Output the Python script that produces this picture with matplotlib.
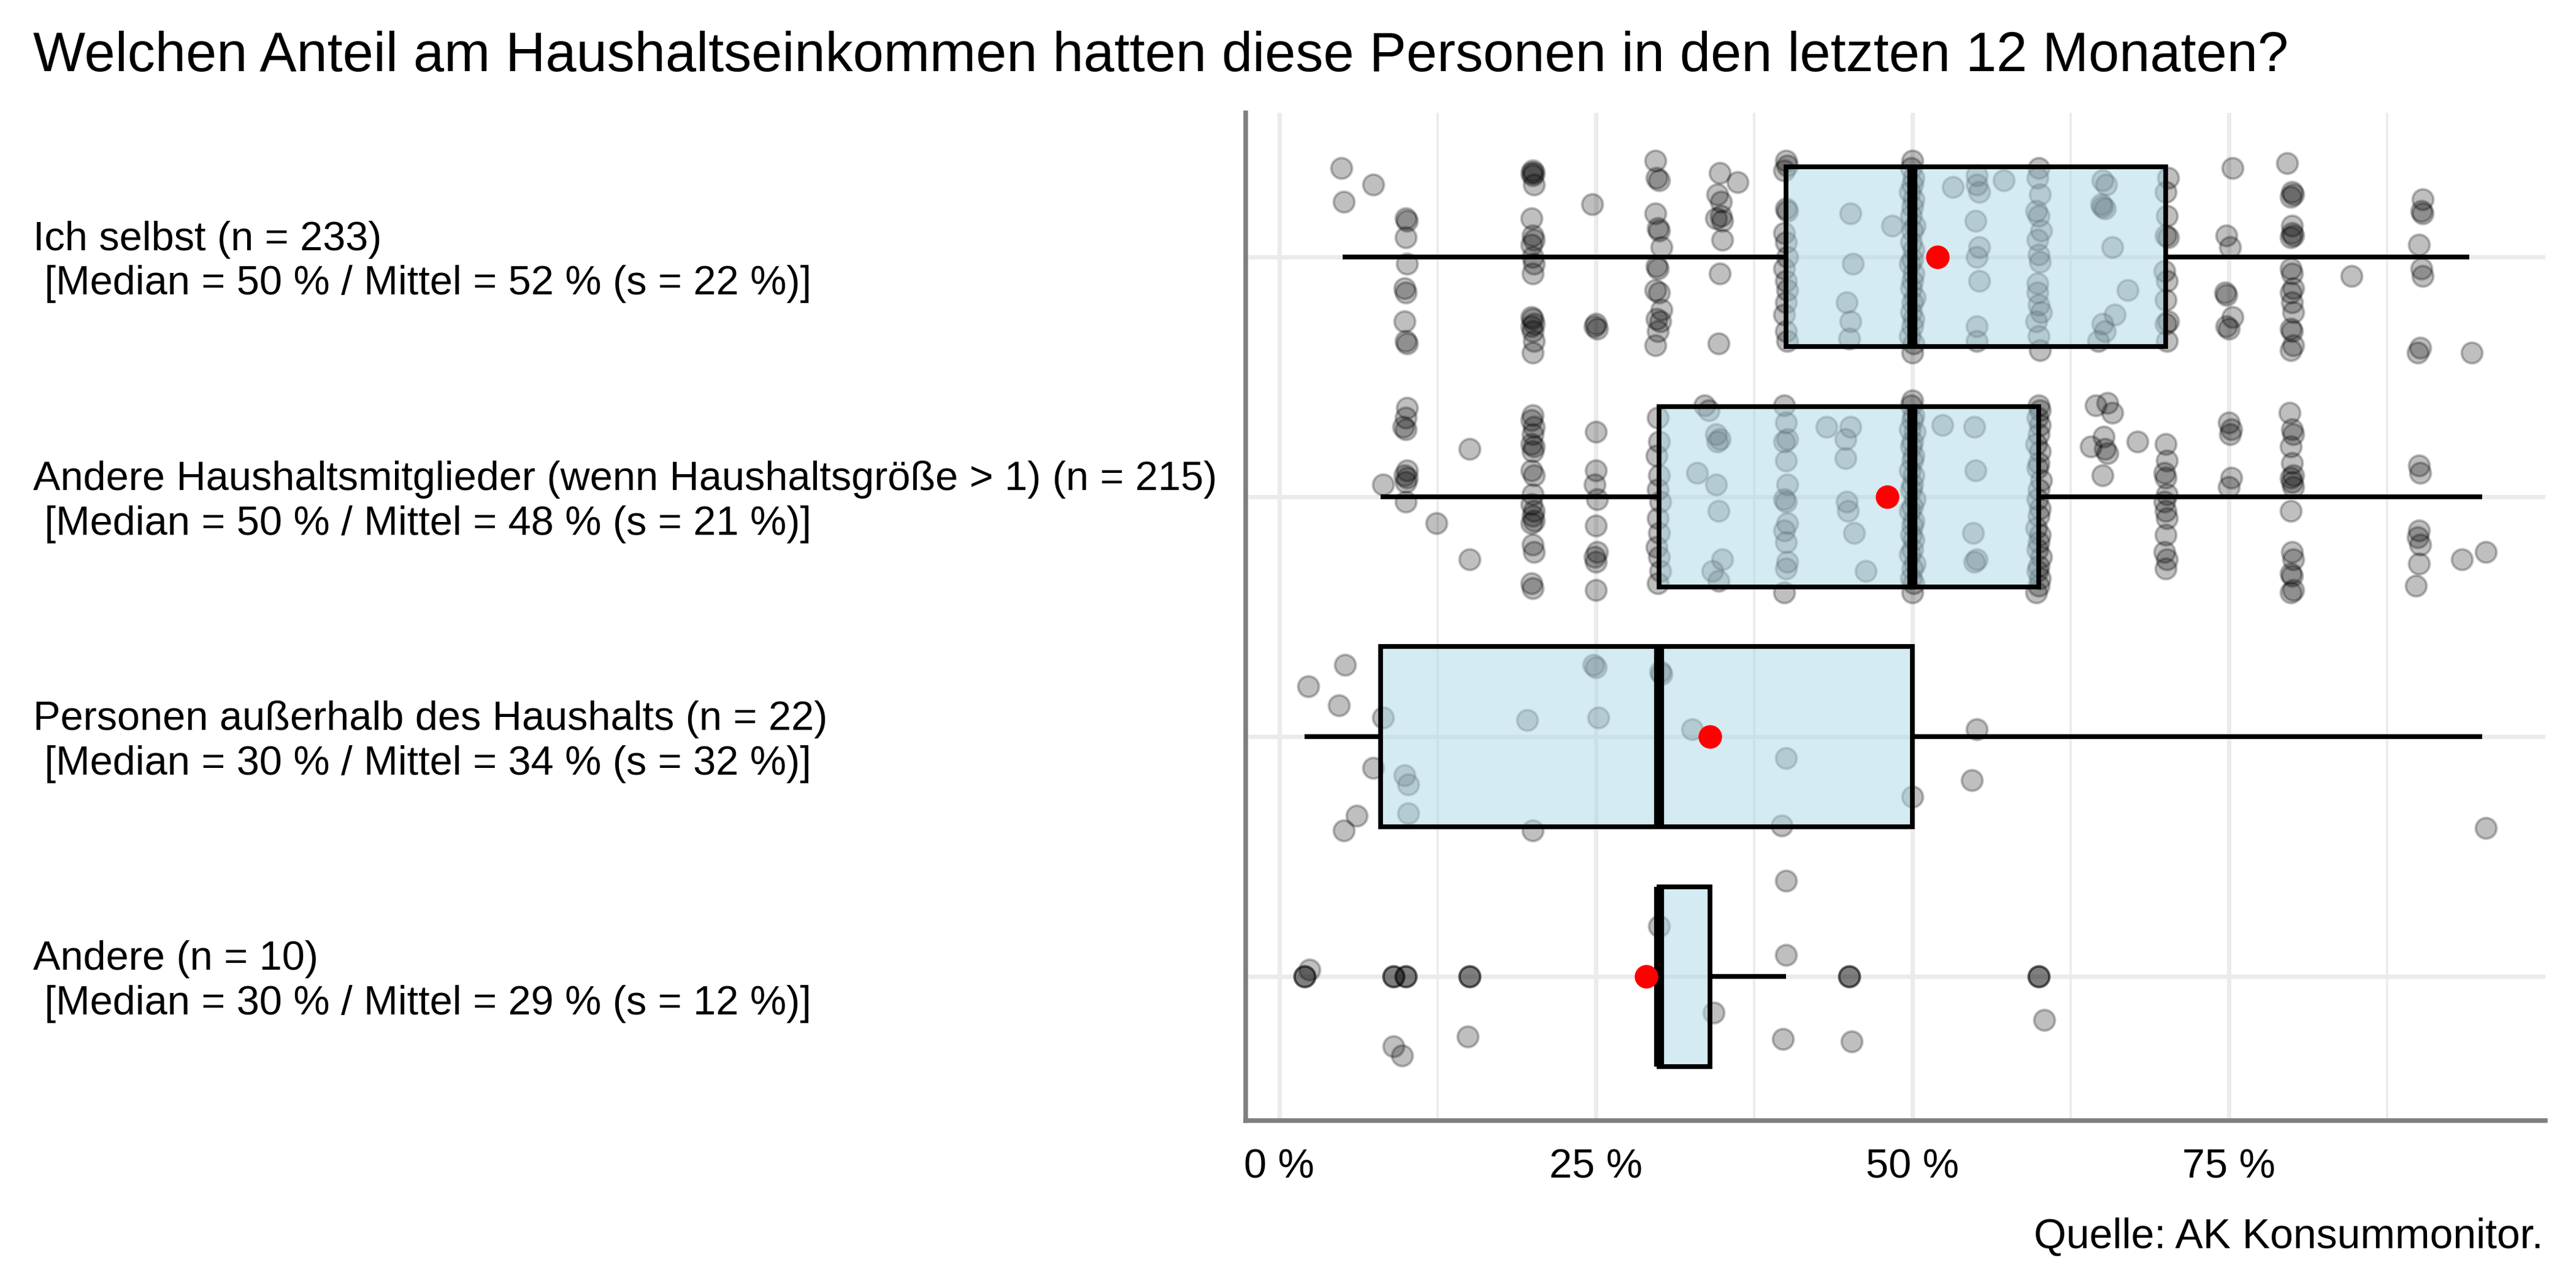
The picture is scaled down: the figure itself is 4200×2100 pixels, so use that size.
import numpy as np
import matplotlib
matplotlib.use("Agg")
import matplotlib.pyplot as plt
from matplotlib.transforms import ScaledTranslation

plt.rcParams['font.family'] = ['Liberation Sans', 'DejaVu Sans']

title = "Welchen Anteil am Haushaltseinkommen hatten diese Personen in den letzten 12 Monaten?"
caption = "Quelle: AK Konsummonitor."

labels = [
    "Ich selbst (n = 233)\n [Median = 50 % / Mittel = 52 % (s = 22 %)]",
    "Andere Haushaltsmitglieder (wenn Haushaltsgröße > 1) (n = 215)\n [Median = 50 % / Mittel = 48 % (s = 21 %)]",
    "Personen außerhalb des Haushalts (n = 22)\n [Median = 30 % / Mittel = 34 % (s = 32 %)]",
    "Andere (n = 10)\n [Median = 30 % / Mittel = 29 % (s = 12 %)]",
]

# box statistics (percent)
q1 = [40, 30, 8, 30]
median = [50, 50, 30, 30]
q3 = [70, 60, 50, 34]
whisk_lo = [5, 8, 2, 30]
whisk_hi = [94, 95, 95, 40]
means = [52, 48, 34, 29]
outliers = [[], [], [], [2, 9, 10, 15, 45, 60]]

# jittered answers: (value in %, vertical offset from category centre)
ich_points = [
    (4.9, -0.37), (7.4, -0.30), (5.1, -0.23),
    (10.0, -0.16), (10.1, -0.15), (10.0, -0.08), (10.1, 0.03), (9.9, 0.13), (10.0, 0.15),
    (9.9, 0.27), (10.0, 0.35), (10.1, 0.36),
    (20.0, -0.36), (19.9, -0.35), (20.1, -0.35), (20.0, -0.34), (20.1, -0.30), (19.9, -0.16),
    (20.0, -0.09), (20.1, -0.07), (19.9, -0.05), (20.0, 0.0), (20.1, 0.03), (20.0, 0.07),
    (19.9, 0.25), (20.0, 0.26), (20.1, 0.28), (19.9, 0.29), (20.0, 0.31), (20.1, 0.35), (20.0, 0.40),
    (24.7, -0.22), (25.0, 0.28), (24.9, 0.29), (25.1, 0.30),
    (29.7, -0.40), (29.8, -0.33), (30.0, -0.32), (29.7, -0.18), (29.9, -0.12), (30.0, -0.11),
    (30.2, -0.04), (29.8, 0.04), (29.9, 0.05), (29.7, 0.14), (30.0, 0.15), (30.2, 0.22),
    (29.8, 0.26), (30.1, 0.27), (29.9, 0.31), (29.7, 0.37),
    (34.8, -0.35), (34.6, -0.26), (34.9, -0.23), (34.5, -0.16), (34.9, -0.17), (35.0, -0.15),
    (35.0, -0.07), (34.8, 0.07), (34.7, 0.36), (36.2, -0.31),
    (40.0, -0.40), (40.1, -0.38), (39.9, -0.36), (40.0, -0.20), (40.1, -0.19), (39.9, -0.10),
    (40.0, -0.06), (40.1, 0.0), (39.9, 0.05), (40.0, 0.10), (40.1, 0.14), (40.0, 0.19),
    (39.9, 0.24), (40.0, 0.31), (40.1, 0.35),
    (45.1, -0.18), (45.3, 0.03), (44.8, 0.19), (45.1, 0.27), (45.0, 0.34), (48.4, -0.13),
    (50.0, -0.40), (49.9, -0.37), (50.1, -0.33), (50.0, -0.30), (49.8, -0.27), (50.1, -0.24),
    (50.0, -0.21), (49.9, -0.17), (50.2, -0.13), (50.0, -0.11), (49.9, -0.06), (50.1, -0.03),
    (50.0, 0.01), (49.8, 0.03), (50.1, 0.07), (50.0, 0.10), (49.9, 0.13), (50.2, 0.17),
    (50.0, 0.19), (49.9, 0.23), (50.1, 0.26), (50.0, 0.29), (49.8, 0.33), (50.1, 0.36), (50.0, 0.40),
    (53.2, -0.29), (55.1, -0.34), (55.1, -0.30), (55.3, -0.27), (55.0, -0.15), (55.3, -0.04),
    (55.1, 0.0), (55.3, 0.10), (55.1, 0.29), (55.1, 0.35), (57.2, -0.32),
    (59.9, -0.33), (60.1, -0.26), (59.8, -0.19), (60.0, -0.17), (60.2, -0.11), (59.9, -0.07),
    (60.0, -0.01), (60.1, 0.02), (59.9, 0.11), (60.0, 0.20), (60.2, 0.23), (59.8, 0.27),
    (60.0, 0.33), (60.1, 0.39), (60.0, -0.37), (59.9, 0.15),
    (65.0, -0.32), (65.3, -0.30), (64.9, -0.22), (65.0, -0.21), (65.2, -0.20), (65.8, -0.04),
    (67.0, 0.14), (66.0, 0.24), (65.0, 0.28), (65.2, 0.31), (64.7, 0.35),
    (70.2, -0.33), (70.0, -0.27), (70.1, -0.17), (70.0, -0.09), (70.2, -0.08), (69.9, 0.06),
    (70.1, 0.10), (70.0, 0.18), (70.2, 0.27), (70.0, 0.28), (70.1, 0.35),
    (75.3, -0.37), (74.8, -0.09), (75.1, -0.04), (74.7, 0.15), (74.8, 0.16), (75.3, 0.25),
    (74.8, 0.29), (75.0, 0.30),
    (79.6, -0.39), (80.0, -0.27), (80.1, -0.26), (79.9, -0.25), (80.0, -0.13), (80.0, -0.10),
    (80.1, -0.09), (79.9, -0.08), (79.9, 0.05), (80.0, 0.07), (80.1, 0.13), (79.9, 0.15),
    (80.0, 0.19), (80.1, 0.23), (79.9, 0.30), (80.0, 0.31), (80.1, 0.37), (79.9, 0.39),
    (84.7, 0.08),
    (90.3, -0.24), (90.2, -0.19), (90.3, -0.18), (90.0, -0.05), (90.2, 0.05), (90.3, 0.08),
    (90.1, 0.38), (89.9, 0.40), (94.2, 0.40),
]

haushalt_points = [
    (10.1, -0.37), (10.0, -0.33), (9.8, -0.29), (10.0, -0.28), (10.1, -0.11), (9.9, -0.09),
    (10.1, -0.08), (10.0, -0.06), (10.0, 0.02),
    (8.2, -0.05), (12.4, 0.11), (15.0, -0.20), (15.0, 0.26),
    (20.0, -0.34), (19.9, -0.32), (20.1, -0.29), (20.0, -0.26), (19.9, -0.22), (20.1, -0.21),
    (20.0, -0.19), (19.9, -0.11), (20.1, -0.09), (20.0, -0.01), (19.9, 0.03), (20.1, 0.06),
    (20.0, 0.08), (20.1, 0.10), (19.9, 0.11), (20.0, 0.20), (20.1, 0.23), (19.9, 0.36), (20.0, 0.38),
    (25.0, -0.27), (25.0, -0.11), (24.9, -0.05), (25.1, 0.01), (25.0, 0.12), (25.1, 0.23),
    (24.9, 0.25), (25.0, 0.27), (25.0, 0.39),
    (29.9, -0.33), (30.0, -0.23), (29.8, -0.17), (30.0, -0.09), (29.9, -0.03), (30.1, 0.02),
    (29.9, 0.09), (30.0, 0.15), (29.8, 0.21), (30.0, 0.25), (30.1, 0.31), (29.9, 0.36),
    (33.6, -0.38), (33.9, -0.36), (34.5, -0.26), (34.8, -0.24), (34.6, -0.23), (33.0, -0.10),
    (34.5, -0.05), (34.7, 0.06), (35.0, 0.26), (34.2, 0.31), (34.7, 0.35),
    (39.9, -0.38), (40.0, -0.31), (40.1, -0.24), (39.9, -0.23), (40.0, -0.15), (40.1, -0.05),
    (39.9, 0.01), (40.0, 0.02), (40.1, 0.11), (39.9, 0.14), (40.0, 0.19), (40.1, 0.27),
    (40.0, 0.30), (39.9, 0.40),
    (43.2, -0.29), (45.1, -0.29), (44.7, -0.24), (44.7, -0.16), (44.8, 0.02), (44.9, 0.06),
    (45.4, 0.15), (46.3, 0.31),
    (50.0, -0.40), (49.9, -0.38), (50.1, -0.34), (50.0, -0.32), (49.8, -0.28), (50.2, -0.27),
    (50.0, -0.23), (49.9, -0.21), (50.1, -0.17), (50.0, -0.15), (49.8, -0.11), (50.1, -0.09),
    (50.0, -0.05), (49.9, -0.03), (50.2, 0.01), (50.0, 0.04), (49.8, 0.06), (50.1, 0.10),
    (50.0, 0.12), (49.9, 0.16), (50.1, 0.18), (50.0, 0.22), (49.8, 0.24), (50.2, 0.28),
    (50.0, 0.30), (49.9, 0.34), (50.1, 0.36), (50.0, 0.40),
    (52.4, -0.30), (54.9, -0.29), (55.0, -0.11), (54.8, 0.15), (55.1, 0.26), (54.9, 0.27),
    (60.0, -0.38), (59.9, -0.33), (60.1, -0.30), (60.0, -0.26), (59.8, -0.22), (60.1, -0.19),
    (60.0, -0.14), (59.9, -0.12), (60.2, -0.07), (60.0, -0.03), (59.9, 0.01), (60.1, 0.05),
    (60.0, 0.08), (59.8, 0.13), (60.1, 0.16), (60.0, 0.19), (59.9, 0.22), (60.2, 0.25),
    (60.0, 0.29), (59.9, 0.31), (60.1, 0.34), (60.0, 0.37), (59.8, 0.40), (60.1, -0.36),
    (64.5, -0.38), (65.4, -0.39), (65.8, -0.35), (64.1, -0.21), (65.1, -0.25), (65.2, -0.20),
    (65.4, -0.18), (65.0, -0.09), (67.8, -0.23),
    (70.0, -0.22), (70.1, -0.15), (69.9, -0.10), (70.0, -0.08), (70.1, -0.01), (69.9, 0.02),
    (70.0, 0.06), (70.1, 0.09), (70.0, 0.16), (69.9, 0.23), (70.1, 0.26), (70.0, 0.30),
    (75.0, -0.31), (75.2, -0.28), (75.1, -0.26), (75.2, -0.08), (75.0, -0.04),
    (79.8, -0.35), (80.0, -0.28), (80.1, -0.26), (79.9, -0.21), (80.0, -0.14), (80.1, -0.09),
    (79.9, -0.08), (80.0, -0.06), (80.1, -0.04), (79.9, 0.06), (80.0, 0.23), (80.1, 0.26),
    (79.9, 0.32), (80.0, 0.33), (80.1, 0.39), (79.9, 0.40),
    (90.0, -0.13), (90.1, -0.10), (90.0, 0.14), (89.9, 0.17), (90.1, 0.20), (90.0, 0.28),
    (89.8, 0.37), (93.4, 0.26), (95.3, 0.23),
]

ausser_points = [
    (5.2, -0.30), (2.3, -0.21), (4.7, -0.13), (8.2, -0.08), (19.6, -0.07), (24.8, -0.30),
    (25.0, -0.29), (25.2, -0.08), (30.1, -0.27), (30.2, -0.26), (32.6, -0.03), (40.0, 0.09),
    (7.4, 0.13), (9.9, 0.16), (10.2, 0.20), (10.2, 0.32), (6.1, 0.33), (5.1, 0.39),
    (20.0, 0.39), (39.7, 0.37), (55.1, -0.03), (54.7, 0.18), (50.0, 0.25), (95.3, 0.38),
]

andere_points = [
    (2.4, -0.03), (30.0, -0.21), (40.0, -0.40), (40.0, -0.09), (34.3, 0.15), (39.8, 0.26),
    (45.2, 0.27), (9.0, 0.29), (9.7, 0.33), (14.9, 0.25), (60.4, 0.18),
]

all_points = [ich_points, haushalt_points, ausser_points, andere_points]

fig = plt.figure(figsize=(14, 7), dpi=300)
ax = fig.add_axes([2031 / 4200, 1 - 1827 / 2100, (4150 - 2031) / 4200, (1827 - 184) / 2100])

grid_col = '#EBEBEB'
for v in [0, 25, 50, 75]:
    ax.axvline(v, color=grid_col, lw=1.7, zorder=0)
for v in [12.5, 37.5, 62.5, 87.5]:
    ax.axvline(v, color=grid_col, lw=0.9, zorder=0)
for i in range(len(labels)):
    ax.axhline(i, color=grid_col, lw=1.7, zorder=0)

# jittered points
for i, pts in enumerate(all_points):
    arr = np.array(pts)
    ax.scatter(arr[:, 0], i + arr[:, 1], s=66, color='black', alpha=0.25,
               linewidths=1.0, zorder=2)

# boxes
stats = []
for i in range(len(labels)):
    stats.append({'q1': q1[i], 'med': median[i], 'q3': q3[i],
                  'whislo': whisk_lo[i], 'whishi': whisk_hi[i], 'fliers': outliers[i]})
ax.bxp(stats, positions=range(len(labels)), widths=0.75, vert=False,
       patch_artist=True, showcaps=False, showfliers=True,
       boxprops=dict(facecolor=(0.678, 0.847, 0.902, 0.5), edgecolor='black',
                     linewidth=1.85, joinstyle='miter', zorder=3),
       medianprops=dict(color='black', linewidth=3.9, solid_capstyle='butt', zorder=4),
       whiskerprops=dict(color='black', linewidth=1.85, solid_capstyle='butt', zorder=3),
       flierprops=dict(marker='o', markersize=8.1, markerfacecolor=(0, 0, 0, 0.5),
                       markeredgecolor=(0, 0, 0, 0.6), markeredgewidth=1.0, zorder=2))

ax.scatter(means, range(len(labels)), s=85, color='red', linewidths=0, zorder=5)

ax.set_xlim(-2.66, 100.0)
ax.set_ylim(3.6, -0.6)
ax.set_xticks([0, 25, 50, 75], ["0 %", "25 %", "50 %", "75 %"])
ax.set_yticks(range(len(labels)), labels)
ax.tick_params(axis='both', length=0, labelsize=16, colors='black')
ax.tick_params(axis='x', pad=11)
ax.tick_params(axis='y', pad=474.5)
shift_down = ScaledTranslation(0, -2.0 / 72, fig.dpi_scale_trans)
for lab in ax.get_yticklabels():
    lab.set_horizontalalignment('left')
    lab.set_verticalalignment('center')
    lab.set_linespacing(1.22)
    lab.set_transform(lab.get_transform() + shift_down)

for side in ['top', 'right']:
    ax.spines[side].set_visible(False)
for side in ['left', 'bottom']:
    ax.spines[side].set_color('#7F7F7F')
    ax.spines[side].set_linewidth(1.8)

fig.text(54 / 4200, 1 - 116 / 2100, title, fontsize=21.65, ha='left', va='baseline')
fig.text(4147 / 4200, 1 - 2035 / 2100, caption, fontsize=16.3, ha='right', va='baseline')

fig.savefig('out.png', dpi=300, facecolor='white')
